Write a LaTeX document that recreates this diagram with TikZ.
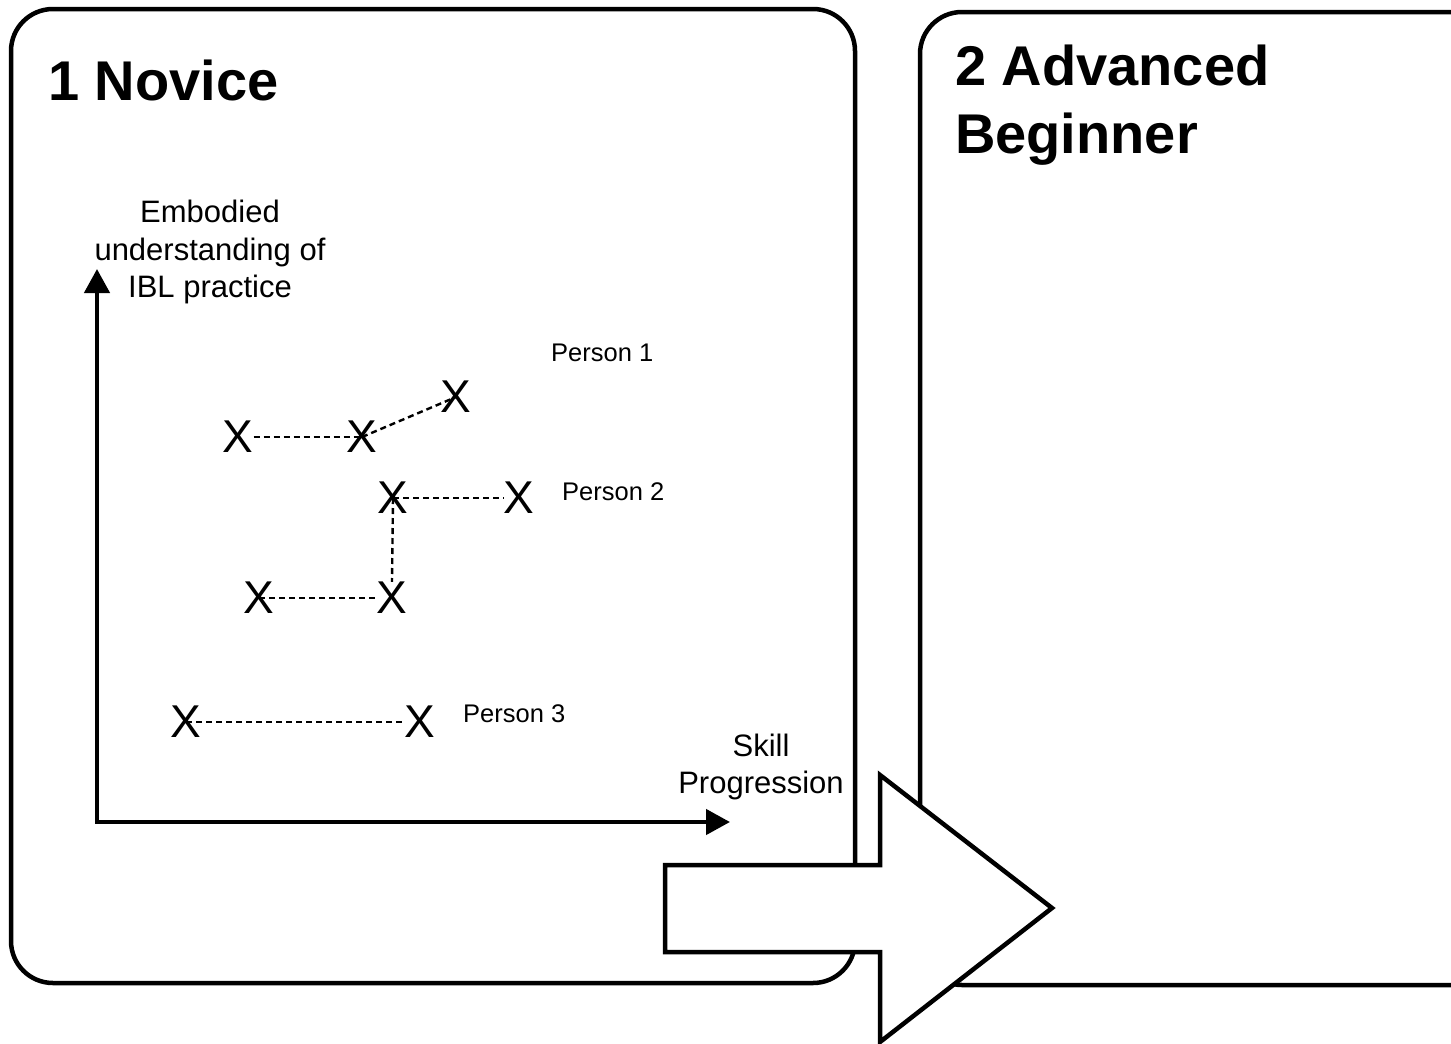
\documentclass[tikz,border=0pt]{standalone}
\usepackage{fontspec}
\setmainfont{Liberation Sans}
\usetikzlibrary{arrows.meta}
\begin{document}
\begin{tikzpicture}[x=1pt,y=-1pt,
  frame/.style={line width=4.5pt,rounded corners=42pt},
  titletext/.style={font=\fontsize{56}{68}\selectfont\bfseries,anchor=base west,inner sep=0pt},
  axislabel/.style={font=\fontsize{31}{37.5}\selectfont,align=center,inner sep=0pt},
  personlabel/.style={font=\fontsize{25.5}{30}\selectfont,anchor=base west,inner sep=0pt},
  xmark/.style={font=\fontsize{46}{50}\selectfont,inner sep=0pt},
  trail/.style={dash pattern=on 6pt off 4pt,line width=2.4pt},
  axis/.style={line width=4.5pt,{Triangle[length=24pt,width=25pt]}-{Triangle[length=24pt,width=25pt]}},
  bigarrow/.style={line width=4.5pt,fill=white}]
\useasboundingbox (0,0) rectangle (1451,1044);
\clip (0,0) rectangle (1451,1044);

% frames
\draw[frame] (11,9) rectangle (855,983);
\draw[frame] (920,12) rectangle (1500,985);

% titles
\node[titletext] (t1) at (48,100) {1 Novice};
\node[titletext,align=left,anchor=north west] (t2) at (955,45) {2 Advanced\\Beginner};

% axes
\coordinate (ytip) at (97,269);
\coordinate (origin) at (97,822);
\coordinate (xtip) at (730,822);
\draw[axis] (ytip) -- (origin) -- (xtip);
\node[axislabel] (ylab) at (210,252) {Embodied\\understanding of\\IBL practice};
\node[axislabel] (xlab) at (761,767) {Skill\\Progression};

% marks
\node[xmark] (A) at (238,437) {X};
\node[xmark] (B) at (362,437) {X};
\node[xmark] (C) at (456,397) {X};
\node[xmark] (D) at (393,498) {X};
\node[xmark] (E) at (519,498) {X};
\node[xmark] (F) at (259,598) {X};
\node[xmark] (G) at (392,598) {X};
\node[xmark] (H) at (186,722) {X};
\node[xmark] (I) at (420,722) {X};

\draw[trail] (A.east) -- (B.center);
\draw[trail] (B.center) -- (C.center);
\draw[trail] (D.center) -- (E.west);
\draw[trail] (D.center) -- (G.north);
\draw[trail] (F.center) -- (G.west);
\draw[trail] (H.center) -- (I.west);

\node[personlabel] (p1) at (551,361) {Person 1};
\node[personlabel] (p2) at (562,500) {Person 2};
\node[personlabel] (p3) at (463,722) {Person 3};

% big arrow
\draw[bigarrow] (665,865) -- (880,865) -- (880,775) -- (1052,908) -- (880,1042) -- (880,952) -- (665,952) -- cycle;
\end{tikzpicture}
\end{document}
